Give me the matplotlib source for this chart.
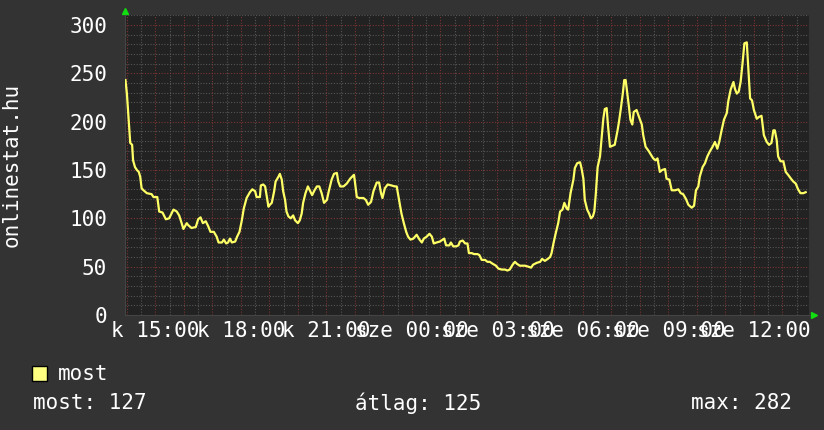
import matplotlib.pyplot as plt
from matplotlib.patches import Rectangle

plt.rcParams['font.family'] = 'DejaVu Sans Mono'

# percek a kezdettől (k 13:56), és a mért értékek
perc = [1, 4, 7, 11, 15, 17, 21, 25, 29, 32, 35, 39, 46, 56, 60, 68, 72, 79, 86, 93,
        102, 109, 114, 118, 123, 130, 133, 140, 149, 154, 159, 164, 170, 175, 180, 187, 193, 197, 204, 208,
        213, 217, 221, 225, 232, 236, 241, 246, 250, 256, 263, 268, 274, 277, 284,
        286, 291, 295, 298, 302, 305, 309, 314, 317, 323, 326, 330, 333, 337, 340, 344, 349, 354, 358, 364,
        368, 372, 375, 380, 385, 389, 394, 399, 404, 409, 414, 419, 425, 429, 435, 440, 446, 449, 453, 460,
        467, 474, 482, 484, 488, 493, 502, 507, 512, 518, 523, 530, 535, 539, 542, 547, 553, 561, 568,
        572, 577, 582, 587, 592, 596, 601, 607, 614, 620, 625, 629, 635, 641, 646, 650, 656, 663, 669, 672,
        676, 683, 686, 691, 697, 702, 705, 711, 716, 721, 724, 730, 735, 742, 746, 751, 758, 763, 768, 774,
        781, 786, 793, 800, 805, 810, 816, 821, 825, 831, 842, 849, 855,
        859, 867, 874, 878, 884, 890, 895, 898, 902, 907, 912, 916, 921, 925, 930, 933, 938, 944, 947, 952,
        958, 961, 965, 968, 973, 977, 981, 985, 988, 991, 995, 1000, 1003, 1007, 1010, 1014, 1017, 1021, 1026, 1031,
        1037, 1040, 1044, 1048, 1051, 1054, 1057, 1061, 1064, 1068, 1071, 1077, 1082, 1088, 1091, 1096, 1102, 1107,
        1112, 1117, 1121, 1126, 1131, 1137,
        1140, 1146, 1151, 1158, 1165, 1170, 1175, 1181, 1186, 1193, 1198, 1202, 1207, 1210, 1216, 1221, 1226, 1231,
        1237, 1242, 1247, 1251, 1256, 1261, 1267, 1270, 1275, 1281, 1284, 1288, 1292, 1296, 1300, 1304, 1309, 1312,
        1316, 1320, 1324, 1330, 1335, 1340, 1345, 1351, 1356, 1361, 1365, 1368, 1372, 1375, 1380, 1386, 1391, 1396,
        1402, 1407, 1412, 1417, 1422, 1428, 1433]
most = [243, 229, 207, 178, 176, 160, 153, 150, 148, 143, 131, 129, 126, 125, 122, 122, 107, 106, 99, 100,
        109, 107, 103, 97, 89, 95, 93, 90, 91, 99, 101, 95, 97, 92, 86, 86, 81, 75, 75, 78,
        74, 75, 79, 75, 76, 81, 86, 98, 110, 121, 127, 130, 128, 122, 122,
        134, 135, 133, 124, 112, 114, 116, 128, 138, 143, 146, 140, 128, 119, 107, 102, 100, 103, 98, 95,
        98, 105, 116, 126, 133, 129, 124, 129, 133, 133, 126, 116, 119, 128, 140, 146, 147, 138, 133, 133,
        136, 141, 145, 138, 122, 121, 121, 119, 114, 117, 128, 137, 137, 126, 121, 131, 135, 134, 133,
        133, 119, 105, 95, 86, 81, 78, 79, 83, 78, 75, 79, 81, 84, 81, 74, 75, 76, 78, 79,
        72, 72, 75, 71, 71, 72, 76, 77, 74, 74, 64, 64, 63, 63, 62, 57, 57, 55, 55, 53,
        51, 48, 47, 47, 46, 47, 52, 55, 53, 51, 51, 50, 49,
        52, 54, 55, 58, 56, 58, 60, 64, 74, 85, 95, 107, 109, 116, 110, 109, 126, 140, 152, 157,
        158, 152, 141, 119, 109, 105, 100, 102, 107, 124, 153, 164, 181, 203, 213, 214, 195, 174, 175, 176,
        191, 200, 214, 229, 243, 243, 231, 215, 202, 197, 210, 212, 205, 197, 186, 174, 170, 166,
        162, 160, 162, 148, 150, 151,
        141, 140, 129, 129, 130, 126, 125, 120, 114, 111, 113, 129, 133, 143, 153, 157, 164, 169,
        174, 179, 172, 179, 191, 202, 209, 221, 233, 241, 234, 229, 231, 241, 260, 281, 282, 257,
        224, 222, 212, 203, 205, 206, 186, 179, 176, 178, 191, 191, 181, 164, 159, 159, 148, 145,
        141, 138, 136, 130, 126, 126, 127]

tick_pos = [64, 244, 424, 604, 784, 964, 1144, 1324]
tick_labels = ['k 15:00', 'k 18:00', 'k 21:00', 'sze 00:00', 'sze 03:00',
               'sze 06:00', 'sze 09:00', 'sze 12:00']

most_now = 127
atlag = 125
maximum = 282

fig = plt.figure(figsize=(8.24, 4.30), dpi=100, facecolor='#333333')
ax = fig.add_axes([125/824, 115/430, 684/824, 300/430], facecolor='#222222')

# rács: fél óránként / 10-esével szürke, óránként / 50-esével piros
for m in range(4, 1441, 30):
    c = '#7a3434' if (m - 4) % 60 == 0 else '#555555'
    ax.axvline(m, color=c, lw=0.8, ls=(0, (1, 1.5)), zorder=1)
for v in range(10, 311, 10):
    c = '#7a3434' if v % 50 == 0 else '#555555'
    ax.axhline(v, color=c, lw=0.8, ls=(0, (1, 1.5)), zorder=1)

ax.plot(perc, most, color='#ffff66', lw=1.6, zorder=3)

ax.set_xlim(0, 1440)
ax.set_ylim(0, 310.3)
ax.set_xticks(tick_pos)
ax.set_xticklabels(tick_labels)
ax.set_yticks(range(0, 301, 50))
ax.tick_params(colors='white', labelsize=15, length=0)
ax.tick_params(axis='y', pad=13)
ax.tick_params(axis='x', pad=4)

for s in ['top', 'right']:
    ax.spines[s].set_visible(False)
for s in ['left', 'bottom']:
    ax.spines[s].set_color('#444444')

# zöld nyilak a tengelyek végén
ax.plot([0], [1.015], marker='^', color='#11dd11', ms=5, transform=ax.transAxes, clip_on=False)
ax.plot([1.007], [0.0], marker='>', color='#11dd11', ms=5, transform=ax.transAxes, clip_on=False)

fig.text(12/824, 1 - 165/430, 'onlinestat.hu', rotation=90, ha='center', va='center',
         color='white', fontsize=15)

fig.patches.append(Rectangle((32/824, 1 - 381/430), 15/824, 15/430, transform=fig.transFigure,
                             facecolor='#ffff80', edgecolor='black', lw=1))
fig.text(58/824, 1 - 374/430, 'most', va='center', color='white', fontsize=15)
fig.text(33/824, 1 - 403/430, f'most: {most_now}', va='center', color='white', fontsize=15)
fig.text(355/824, 1 - 403/430, f'átlag: {atlag}', va='center', color='white', fontsize=15)
fig.text(792/824, 1 - 403/430, f'max: {maximum}', va='center', ha='right', color='white', fontsize=15)

fig.savefig('out.png', dpi=100, facecolor=fig.get_facecolor())
